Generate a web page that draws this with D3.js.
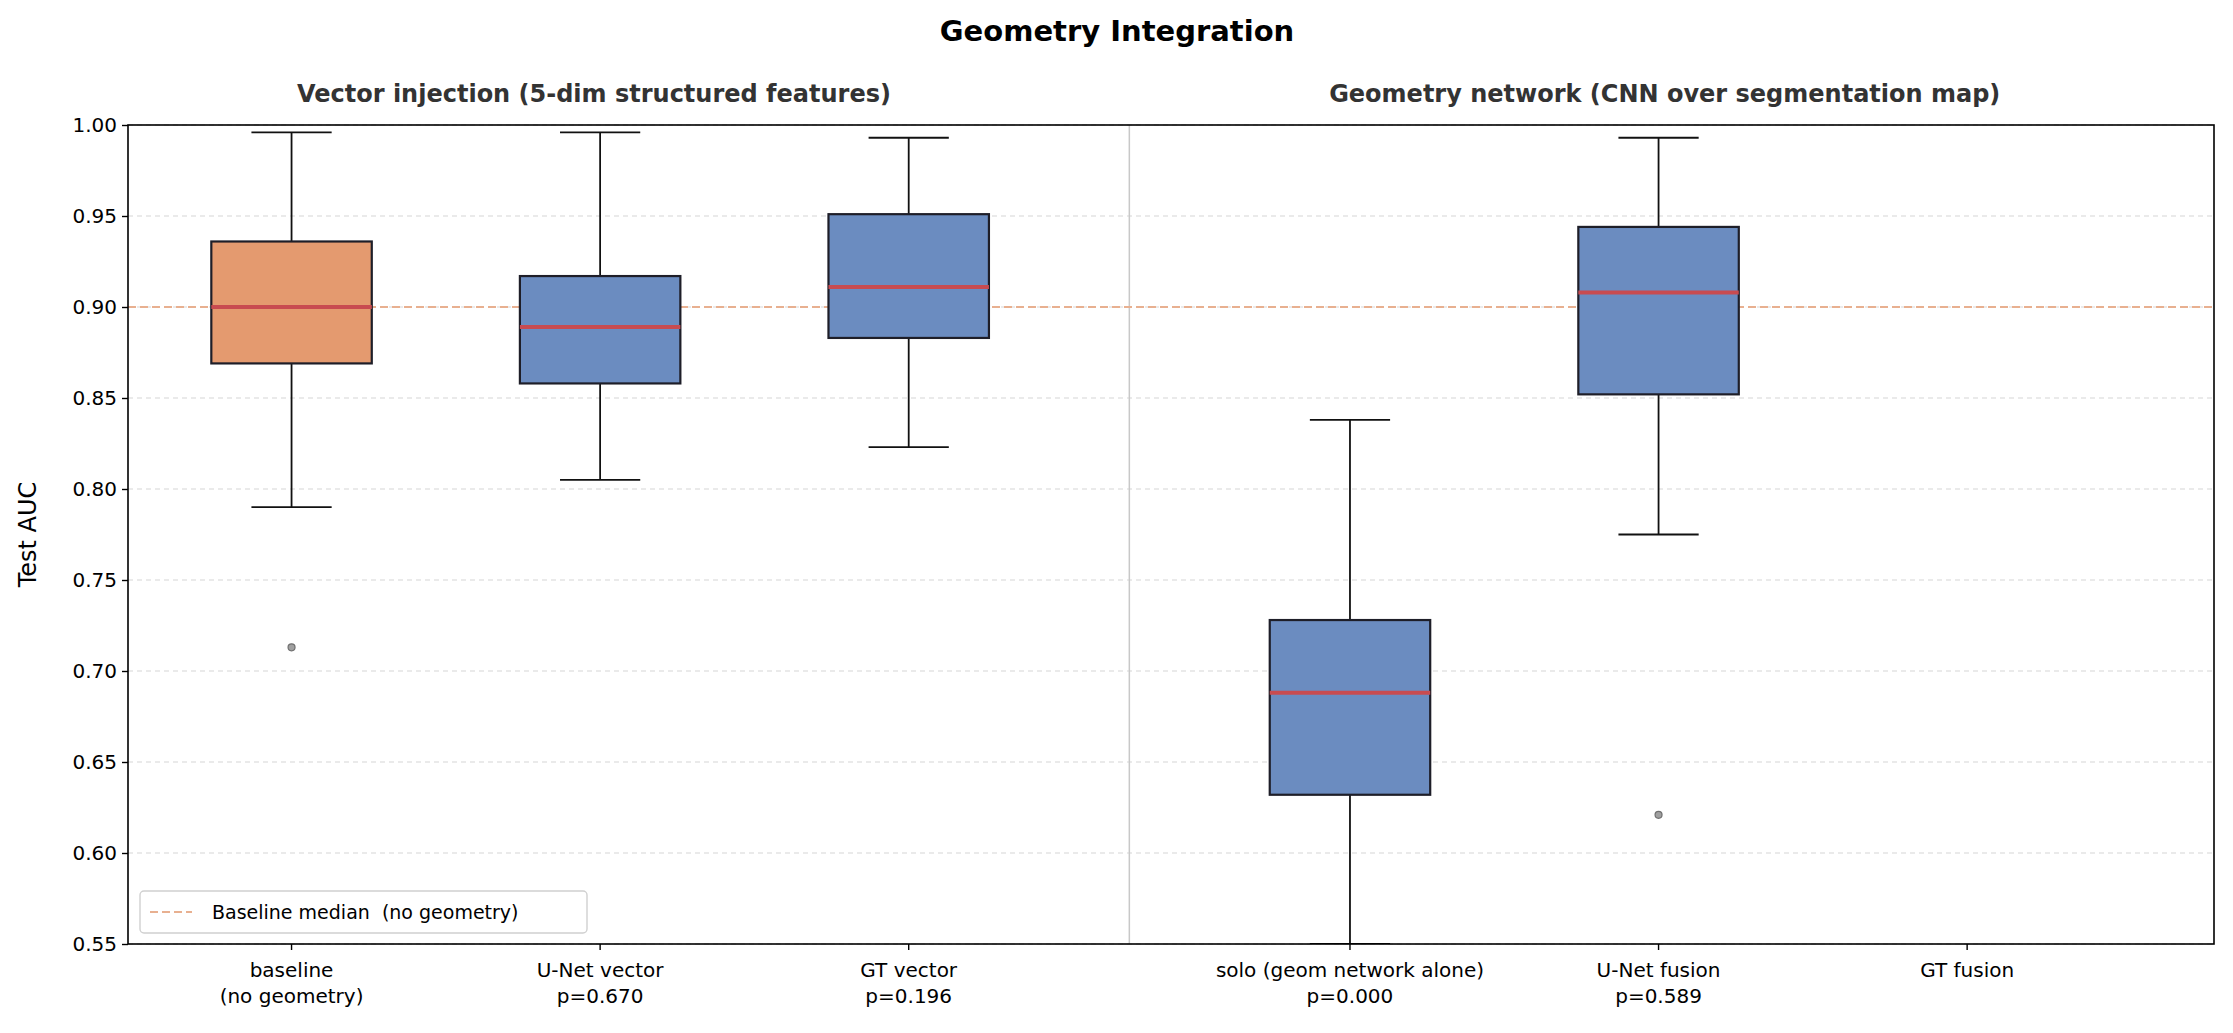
<html>
<head>
<style>
  body { margin:0; background:#fff; }
  text { font-family: "DejaVu Sans", sans-serif; }
</style>
</head>
<body>
<svg id="chart" width="2233" height="1033"></svg>
<script src="https://cdn.jsdelivr.net/npm/d3@7"></script>
<script>
// data
var categories = ["baseline\n(no geometry)", "U-Net vector\np=0.670", "GT vector\np=0.196",
                  "solo (geom network alone)\np=0.000", "U-Net fusion\np=0.589", "GT fusion"];
var positions = [0, 1, 2, 3.43, 4.43, 5.43];
var whiskLo = [0.790, 0.805, 0.823, 0.550, 0.775, null];
var q1      = [0.869, 0.858, 0.883, 0.632, 0.852, null];
var median  = [0.900, 0.889, 0.911, 0.688, 0.908, null];
var q3      = [0.936, 0.917, 0.951, 0.728, 0.944, null];
var whiskHi = [0.996, 0.996, 0.993, 0.838, 0.993, null];
var outliers = [[0.713], [], [], [], [0.621], []];
var yTicks = [0.55, 0.60, 0.65, 0.70, 0.75, 0.80, 0.85, 0.90, 0.95, 1.00];
var baselineMedian = 0.900;
var dividerPos = 2.715;

var svg = d3.select("#chart");
var m = {l:128, r:2214, t:125, b:944};
var x = d3.scaleLinear().domain([-0.53, 6.23]).range([m.l, m.r]);
var y = d3.scaleLinear().domain([0.55, 1.00]).range([m.b, m.t]);
var bw = x(0.26) - x(0);

// grid
svg.append("g").selectAll("line").data(yTicks).enter().append("line")
  .attr("x1", m.l).attr("x2", m.r)
  .attr("y1", function(d){return y(d);}).attr("y2", function(d){return y(d);})
  .attr("stroke", "#e3e3e3").attr("stroke-width", 1.4).attr("stroke-dasharray", "5,4");

// divider
svg.append("line").attr("x1", x(dividerPos)).attr("x2", x(dividerPos))
  .attr("y1", m.t).attr("y2", m.b).attr("stroke", "#c8c8c8").attr("stroke-width", 1.5);

// baseline median
svg.append("line").attr("x1", m.l).attr("x2", m.r)
  .attr("y1", y(baselineMedian)).attr("y2", y(baselineMedian))
  .attr("stroke", "#e8b090").attr("stroke-width", 2).attr("stroke-dasharray", "8,4");

var clip = svg.append("clipPath").attr("id", "plot").append("rect")
  .attr("x", m.l).attr("y", m.t).attr("width", m.r - m.l).attr("height", m.b - m.t);

var boxes = svg.append("g").attr("clip-path", "url(#plot)");
categories.forEach(function(c, i) {
  if (median[i] === null) return;
  var cx = x(positions[i]);
  var g = boxes.append("g");
  g.append("line").attr("x1", cx).attr("x2", cx).attr("y1", y(whiskHi[i])).attr("y2", y(q3[i]))
    .attr("stroke", "#111").attr("stroke-width", 1.8);
  g.append("line").attr("x1", cx).attr("x2", cx).attr("y1", y(q1[i])).attr("y2", y(whiskLo[i]))
    .attr("stroke", "#111").attr("stroke-width", 1.8);
  [whiskHi[i], whiskLo[i]].forEach(function(v) {
    g.append("line").attr("x1", cx - bw/2).attr("x2", cx + bw/2).attr("y1", y(v)).attr("y2", y(v))
      .attr("stroke", "#111").attr("stroke-width", 1.8);
  });
  g.append("rect").attr("x", cx - bw).attr("width", 2*bw)
    .attr("y", y(q3[i])).attr("height", y(q1[i]) - y(q3[i]))
    .attr("fill", i === 0 ? "#e49a6f" : "#6b8cc0")
    .attr("stroke", "#1e1e28").attr("stroke-width", 2.2);
  g.append("line").attr("x1", cx - bw).attr("x2", cx + bw).attr("y1", y(median[i])).attr("y2", y(median[i]))
    .attr("stroke", "#c84b50").attr("stroke-width", 4);
  outliers[i].forEach(function(v) {
    g.append("circle").attr("cx", cx).attr("cy", y(v)).attr("r", 3.5)
      .attr("fill", "#a0a0a0").attr("stroke", "#707070").attr("stroke-width", 1.2);
  });
});

// frame
svg.append("rect").attr("x", m.l).attr("y", m.t).attr("width", m.r - m.l).attr("height", m.b - m.t)
  .attr("fill", "none").attr("stroke", "#000").attr("stroke-width", 1.6);

// y axis
var ya = svg.append("g").attr("transform", "translate(" + m.l + ",0)")
  .call(d3.axisLeft(y).tickValues(yTicks).tickFormat(d3.format(".2f")).tickSize(6));
ya.select(".domain").remove();
ya.selectAll("text").attr("font-size", 20).attr("fill", "#000").attr("dx", -2);
ya.selectAll("line").attr("stroke-width", 1.4);

// x axis
var xa = svg.append("g");
categories.forEach(function(c, i) {
  var cx = x(positions[i]);
  xa.append("line").attr("x1", cx).attr("x2", cx).attr("y1", m.b).attr("y2", m.b + 6)
    .attr("stroke", "#000").attr("stroke-width", 1.4);
  var t = xa.append("text").attr("text-anchor", "middle").attr("font-size", 20).attr("fill", "#000");
  c.split("\n").forEach(function(s, k) {
    t.append("tspan").attr("x", cx).attr("y", m.b + 33 + k * 26).text(s);
  });
});

svg.append("text").attr("transform", "translate(36," + ((m.t + m.b)/2) + ") rotate(-90)")
  .attr("text-anchor", "middle").attr("font-size", 24).text("Test AUC");

svg.append("text").attr("x", 1117).attr("y", 41).attr("text-anchor", "middle")
  .attr("font-size", 29).attr("font-weight", "bold").text("Geometry Integration");
svg.append("text").attr("x", x(0.98)).attr("y", 102).attr("text-anchor", "middle")
  .attr("font-size", 24).attr("font-weight", "bold").attr("fill", "#333")
  .text("Vector injection (5-dim structured features)");
svg.append("text").attr("x", x(4.45)).attr("y", 102).attr("text-anchor", "middle")
  .attr("font-size", 24).attr("font-weight", "bold").attr("fill", "#333")
  .text("Geometry network (CNN over segmentation map)");

// legend
var lg = svg.append("g").attr("transform", "translate(140,891)");
lg.append("rect").attr("width", 447).attr("height", 42).attr("rx", 4)
  .attr("fill", "#fff").attr("fill-opacity", 0.85).attr("stroke", "#d0d0d0").attr("stroke-width", 1.4);
lg.append("line").attr("x1", 10).attr("x2", 52).attr("y1", 21).attr("y2", 21)
  .attr("stroke", "#e8b090").attr("stroke-width", 2).attr("stroke-dasharray", "8,4");
lg.append("text").attr("x", 72).attr("y", 28).attr("font-size", 19)
  .attr("xml:space", "preserve").text("Baseline median  (no geometry)");
</script>
</body>
</html>
